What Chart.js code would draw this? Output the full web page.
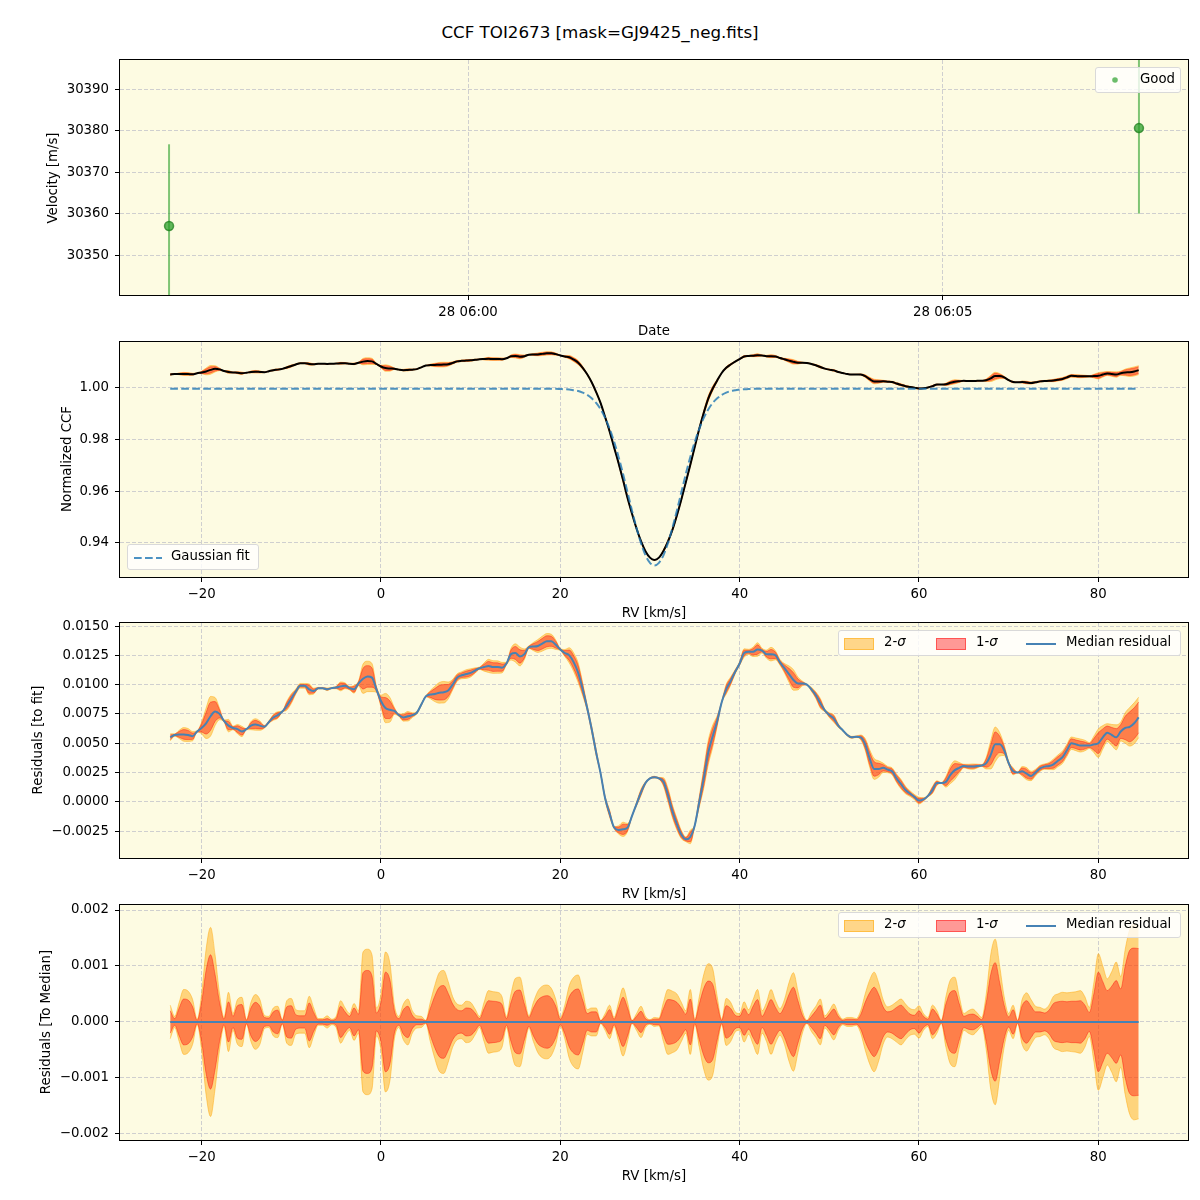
<!DOCTYPE html>
<html>
<head>
<meta charset="utf-8">
<script src="https://cdn.jsdelivr.net/npm/chart.js@4.4.0/dist/chart.umd.min.js"></script>
<style>
body { margin: 0; background: #fff; width: 1200px; height: 1200px; position: relative; overflow: hidden; font-family: "DejaVu Sans", sans-serif; }
canvas { position: absolute; left: 0; }
.lbl { position: absolute; color: #000; font-size: 13.3px; white-space: nowrap; transform: translate(-50%, -50%); }
.ylbl { transform: translate(-50%, -50%) rotate(-90deg); }
.title { font-size: 16.7px; }
.legend { position: absolute; background: rgba(255,255,255,0.8); border: 1px solid #d9d9d9; border-radius: 3px; font-size: 13.3px; box-sizing: border-box; }
.legend span, .legend i.sw, .legend svg { position: absolute; }
.sw { display: block; height: 10px; top: 7px; width: 28px; }
</style>
</head>
<body>
<div class="lbl title" style="left:600px; top:32px;">CCF TOI2673 [mask=GJ9425_neg.fits]</div>

<canvas id="c1" width="1200" height="291"></canvas>
<canvas id="c2" width="1200" height="291"></canvas>
<canvas id="c3" width="1200" height="291"></canvas>
<canvas id="c4" width="1200" height="291"></canvas>

<div class="lbl ylbl" style="left:52px; top:178px;">Velocity [m/s]</div>
<div class="lbl ylbl" style="left:66px; top:459px;">Normalized CCF</div>
<div class="lbl ylbl" style="left:37px; top:740px;">Residuals [to fit]</div>
<div class="lbl ylbl" style="left:45px; top:1022px;">Residuals [To Median]</div>
<div class="lbl" style="left:654px; top:330px;">Date</div>
<div class="lbl" style="left:654px; top:612px;">RV [km/s]</div>
<div class="lbl" style="left:654px; top:893px;">RV [km/s]</div>
<div class="lbl" style="left:654px; top:1175px;">RV [km/s]</div>

<div class="legend" style="left:1095px; top:67px; width:86px; height:26px;">
  <svg style="left:15px; top:8px;" width="8" height="8"><circle cx="4" cy="4" r="2.8" fill="rgba(44,160,44,0.7)"/></svg>
  <span style="left:44px; top:3px;">Good</span>
</div>
<div class="legend" style="left:127px; top:544px; width:132px; height:26px;">
  <svg style="left:6px; top:11px;" width="28" height="4"><line x1="0" y1="2" x2="28" y2="2" stroke="rgba(31,119,180,0.8)" stroke-width="2" stroke-dasharray="7.7,3.3"/></svg>
  <span style="left:43px; top:3px;">Gaussian fit</span>
</div>
<div class="legend" style="left:838px; top:630px; width:343px; height:26px;">
  <i class="sw" style="left:5px; background:rgba(255,165,0,0.45); border:1px solid rgba(255,165,0,0.5);"></i>
  <span style="left:45px; top:3px;">2-<i>σ</i></span>
  <i class="sw" style="left:97px; background:rgba(255,0,0,0.4); border:1px solid rgba(255,0,0,0.45);"></i>
  <span style="left:137px; top:3px;">1-<i>σ</i></span>
  <svg style="left:187px; top:11px;" width="30" height="4"><line x1="0" y1="2" x2="30" y2="2" stroke="#4682b4" stroke-width="2"/></svg>
  <span style="left:227px; top:3px;">Median residual</span>
</div>
<div class="legend" style="left:838px; top:912px; width:343px; height:26px;">
  <i class="sw" style="left:5px; background:rgba(255,165,0,0.45); border:1px solid rgba(255,165,0,0.5);"></i>
  <span style="left:45px; top:3px;">2-<i>σ</i></span>
  <i class="sw" style="left:97px; background:rgba(255,0,0,0.4); border:1px solid rgba(255,0,0,0.45);"></i>
  <span style="left:137px; top:3px;">1-<i>σ</i></span>
  <svg style="left:187px; top:11px;" width="30" height="4"><line x1="0" y1="2" x2="30" y2="2" stroke="#4682b4" stroke-width="2"/></svg>
  <span style="left:227px; top:3px;">Median residual</span>
</div>

<script>
// top panel: RV measurements
var obsTime = ["05:56:51", "06:07:04"];
var obsVel = [30357.0, 30380.6];
var obsErr = [19.7, 20.6];
var timeRange = ["05:56:20", "06:07:35"];
var timeTicks = ["06:00:00", "06:05:00"];
var timeTickLabels = ["28 06:00", "28 06:05"];
var velRange = [30340.4, 30397.0];
var velTicks = [30350, 30360, 30370, 30380, 30390];

// CCF grid (km/s)
var rv = [
  -23.5,-23,-22.5,-22,-21.5,-21,-20.5,-20,-19.5,-19,-18.5,-18,-17.5,-17,-16.5,-16,-15.5,-15,-14.5,-14,
  -13.5,-13,-12.5,-12,-11.5,-11,-10.5,-10,-9.5,-9,-8.5,-8,-7.5,-7,-6.5,-6,-5.5,-5,-4.5,-4,
  -3.5,-3,-2.5,-2,-1.5,-1,-0.5,0,0.5,1,1.5,2,2.5,3,3.5,4,4.5,5,5.5,6,
  6.5,7,7.5,8,8.5,9,9.5,10,10.5,11,11.5,12,12.5,13,13.5,14,14.5,15,15.5,16,
  16.5,17,17.5,18,18.5,19,19.5,20,20.5,21,21.5,22,22.5,23,23.5,24,24.5,25,25.5,26,
  26.5,27,27.5,28,28.5,29,29.5,30,30.5,31,31.5,32,32.5,33,33.5,34,34.5,35,35.5,36,
  36.5,37,37.5,38,38.5,39,39.5,40,40.5,41,41.5,42,42.5,43,43.5,44,44.5,45,45.5,46,
  46.5,47,47.5,48,48.5,49,49.5,50,50.5,51,51.5,52,52.5,53,53.5,54,54.5,55,55.5,56,
  56.5,57,57.5,58,58.5,59,59.5,60,60.5,61,61.5,62,62.5,63,63.5,64,64.5,65,65.5,66,
  66.5,67,67.5,68,68.5,69,69.5,70,70.5,71,71.5,72,72.5,73,73.5,74,74.5,75,75.5,76,
  76.5,77,77.5,78,78.5,79,79.5,80,80.5,81,81.5,82,82.5,83,83.5,84,84.5
];

var gaussFit = [
  0.9997,0.9997,0.9997,0.9997,0.9997,0.9997,0.9997,0.9997,0.9997,0.9997,0.9997,0.9997,0.9997,0.9997,0.9997,0.9997,0.9997,0.9997,0.9997,0.9997,
  0.9997,0.9997,0.9997,0.9997,0.9997,0.9997,0.9997,0.9997,0.9997,0.9997,0.9997,0.9997,0.9997,0.9997,0.9997,0.9997,0.9997,0.9997,0.9997,0.9997,
  0.9997,0.9997,0.9997,0.9997,0.9997,0.9997,0.9997,0.9997,0.9997,0.9997,0.9997,0.9997,0.9997,0.9997,0.9997,0.9997,0.9997,0.9997,0.9997,0.9997,
  0.9997,0.9997,0.9997,0.9997,0.9997,0.9997,0.9997,0.9997,0.9997,0.9997,0.9997,0.9997,0.9997,0.9997,0.9997,0.9997,0.9997,0.9997,0.9997,0.9997,
  0.9997,0.9997,0.9997,0.9997,0.9997,0.9997,0.9997,0.9996,0.9995,0.9994,0.9991,0.9988,0.9982,0.9973,0.9960,0.9942,0.9917,0.9884,0.9842,0.9792,
  0.9733,0.9667,0.9596,0.9525,0.9458,0.9399,0.9352,0.9323,0.9313,0.9323,0.9352,0.9399,0.9458,0.9525,0.9596,0.9667,0.9733,0.9792,0.9842,0.9884,
  0.9917,0.9942,0.9960,0.9973,0.9982,0.9988,0.9991,0.9994,0.9995,0.9996,0.9997,0.9997,0.9997,0.9997,0.9997,0.9997,0.9997,0.9997,0.9997,0.9997,
  0.9997,0.9997,0.9997,0.9997,0.9997,0.9997,0.9997,0.9997,0.9997,0.9997,0.9997,0.9997,0.9997,0.9997,0.9997,0.9997,0.9997,0.9997,0.9997,0.9997,
  0.9997,0.9997,0.9997,0.9997,0.9997,0.9997,0.9997,0.9997,0.9997,0.9997,0.9997,0.9997,0.9997,0.9997,0.9997,0.9997,0.9997,0.9997,0.9997,0.9997,
  0.9997,0.9997,0.9997,0.9997,0.9997,0.9997,0.9997,0.9997,0.9997,0.9997,0.9997,0.9997,0.9997,0.9997,0.9997,0.9997,0.9997,0.9997,0.9997,0.9997,
  0.9997,0.9997,0.9997,0.9997,0.9997,0.9997,0.9997,0.9997,0.9997,0.9997,0.9997,0.9997,0.9997,0.9997,0.9997,0.9997,0.9997
];

// median residual to fit, units of 1e-4
var medianResid = [
  55,57,57.5,57.5,57,56,60,63,67,73,77,75,69,65,63,62,60,62,65,66,
  65,64,68,72,74,77,82,88,94,99,99,96,94.5,97,97,96,97,97.5,98.5,99,
  97,96,101,105,107,106,96,86,80,78.5,77.5,74,72,73,74,76,83,90,91.5,92,
  93,93.5,95,100,106,108,109,110,112,114,115,116,115,115,114.5,118,126,127,124,126,
  132,132.5,133,135,137,137,134,130,127,125,119,110,96,80,62,42,24,3,-10,-22,
  -24,-23.5,-22,-12,-2,8,16,20,21,20,17,6,-8,-19,-28,-32,-30,-20,0,20,
  42,56,69,85,96,103,111,118,127,128,128,130,129,126,126,125,119,114,109,104,
  101,101,100,96,91,84,78,74,71,65,61,57,55,55.5,55,49,37,28,28,29,
  27.5,26,20,15,10,7,4,1,2,5,10,16,16,17,23,27,29,30.5,30,30,
  30.5,31,33,40,49,49,44,33,26,25,26,24,22,25,28.5,30,30.5,32,35,38,
  44,50,49,48,48,48,49,50,55,59,57,55,60,63,64,67,72
];

// 2-sigma half width, units of 1e-4
var sigma2 = [
  3.0,1.0,3.5,5.8,5.5,4.0,0.5,5.0,13.0,16.9,12.0,5.0,0.8,5.3,1.5,4.0,4.4,0.4,3.5,4.9,
  4.0,1.2,1.0,2.5,2.8,0.4,3.8,4.2,2.2,2.0,2.0,4.6,2.5,0.6,0.6,1.1,0.5,1.0,3.8,2.5,
  1.5,3.3,2.0,12.5,13.0,12.0,2.5,5.0,12.5,10.5,3.0,1.0,3.2,4.1,2.0,1.1,1.0,0.3,3.5,6.5,
  8.8,9.2,7.2,4.5,3.2,3.0,3.7,3.5,2.3,1.0,3.5,5.6,5.4,5.3,4.5,1.0,5.0,7.8,8.0,4.5,
  1.1,3.5,5.5,6.4,6.6,6.0,4.0,0.8,3.0,6.5,8.0,8.4,5.5,2.2,2.5,2.5,0.3,1.5,3.0,0.8,
  3.5,6.1,3.5,0.3,1.5,2.8,1.0,0.4,0.8,0.7,3.5,5.8,5.5,5.0,3.5,2.0,5.8,0.5,4.5,8.5,
  10.4,9.5,4.5,0.5,4.2,3.5,1.8,1.5,3.6,2.2,4.0,5.8,2.0,3.5,5.8,3.8,2.4,4.0,7.0,8.8,
  5.5,2.0,0.3,1.7,2.8,4.1,1.1,2.0,3.2,1.5,0.5,0.8,0.8,0.6,2.0,5.0,7.5,8.9,7.0,4.0,
  2.7,3.0,3.6,4.1,3.2,2.4,2.2,2.9,1.5,0.8,3.0,2.0,0.3,4.5,7.5,8.0,4.5,1.5,2.0,2.3,
  1.6,0.8,5.0,12.0,14.8,10.0,4.5,1.5,3.0,0.3,4.0,5.2,4.0,2.8,2.6,2.3,3.0,4.6,5.0,5.3,
  5.2,5.3,5.4,5.6,4.5,2.6,7.0,12.2,10.0,7.7,9.0,10.7,8.1,13.0,16.5,17.5,17.3
];

// 1-sigma half width, units of 1e-4
var sigma1 = [
  2.0,0.6,2.5,4.1,3.9,2.7,0.3,3.5,9.2,12.0,8.5,3.5,0.5,3.6,1.0,2.9,3.1,0.3,2.5,3.5,
  2.8,0.8,0.7,1.8,2.1,0.3,2.7,2.9,1.3,1.1,1.1,3.4,1.7,0.4,0.4,0.6,0.3,0.6,2.8,1.8,
  1.0,2.5,1.4,8.8,9.2,8.2,1.6,3.5,8.9,7.5,2.0,0.6,2.2,2.8,1.2,0.5,0.5,0.2,2.4,4.6,
  6.2,6.5,5.1,3.2,2.2,2.0,2.5,2.4,1.6,0.6,2.4,3.8,3.7,3.6,3.1,0.6,3.5,5.5,5.7,3.2,
  0.8,2.5,3.9,4.5,4.7,4.3,2.8,0.5,2.1,4.5,5.6,5.9,3.9,1.5,1.8,1.8,0.2,1.0,2.2,0.5,
  2.5,4.4,2.5,0.2,1.0,1.9,0.6,0.3,0.5,0.5,2.4,4.0,3.9,3.5,2.5,1.4,4.1,0.3,3.2,6.0,
  7.3,6.7,3.2,0.3,2.9,2.4,1.2,1.0,2.4,1.3,2.8,4.0,1.0,2.4,4.0,2.6,1.5,2.8,4.9,6.2,
  3.8,1.2,0.2,1.0,2.0,3.0,0.6,1.4,2.3,1.0,0.3,0.5,0.5,0.4,1.3,3.5,5.2,6.2,4.9,2.7,
  1.8,2.0,2.6,3.0,2.2,1.4,1.2,2.0,1.0,0.5,2.3,1.4,0.2,3.2,5.3,5.6,3.2,1.0,1.3,1.4,
  1.0,0.4,3.5,8.5,10.6,7.0,3.0,0.9,2.2,0.2,2.9,3.8,2.8,1.8,1.8,1.6,2.1,3.3,3.6,3.7,
  3.6,3.7,3.7,3.8,3.0,1.7,5.0,8.9,7.2,5.6,6.4,7.4,5.9,10.0,12.8,13.2,13.1
];

var rvRange = [-29.1, 90.0];
var rvTicks = [-20, 0, 20, 40, 60, 80];
var ccfRange = [0.9268, 1.0178];
var ccfTicks = [0.94, 0.96, 0.98, 1.00];
var residRange = [-0.0048, 0.01526];
var residTicks = [-0.0025, 0, 0.0025, 0.005, 0.0075, 0.01, 0.0125, 0.015];
var medRange = [-0.00211, 0.00209];
var medTicks = [-0.002, -0.001, 0, 0.001, 0.002];

[gaussFit, medianResid, sigma2, sigma1].forEach(function(a){
    if (a.length !== rv.length){
        throw new Error("length mismatch " + a.length + " vs " + rv.length);
    }
});

var SIG2_COLOR = "rgba(255,165,0,0.45)";
var SIG1_COLOR = "rgba(255,0,0,0.4)";
var FONT = {family: "DejaVu Sans", size: 13.3};
var PAD_TOP = 16;

Chart.defaults.font.family = "DejaVu Sans";

function toSec(t){
    var p = t.split(":");
    return (+p[0]) * 3600 + (+p[1]) * 60 + (+p[2]) - 6 * 3600;
}

function minusSign(s){
    return s.charAt(0) === "-" ? "\u2212" + s.slice(1) : s;
}

var framePlugin = {
    id: "frame",
    beforeDraw: function(chart){
        var a = chart.chartArea, ctx = chart.ctx;
        ctx.save();
        ctx.fillStyle = "#fdfbe2";
        ctx.fillRect(a.left, a.top, a.right - a.left, a.bottom - a.top);
        ctx.restore();
    },
    afterDraw: function(chart){
        var a = chart.chartArea, ctx = chart.ctx;
        ctx.save();
        ctx.strokeStyle = "#000";
        ctx.lineWidth = 1;
        ctx.strokeRect(Math.round(a.left) - 0.5, Math.round(a.top) - 0.5,
            Math.round(a.right - a.left) + 1, Math.round(a.bottom - a.top) + 1);
        ctx.restore();
    }
};

function axis(range, tickValues, fmt, isX){
    return {
        type: "linear",
        min: range[0],
        max: range[1],
        afterBuildTicks: function(s){
            s.ticks = tickValues.map(function(v){ return {value: v}; });
        },
        afterFit: function(s){
            if (isX){
                s.height = 40;
            } else {
                s.width = 120;
            }
        },
        ticks: {callback: fmt, color: "#000", font: FONT, padding: isX ? 5 : 6, maxRotation: 0, autoSkip: false},
        grid: {color: "#cfcfcf", lineWidth: 1, tickColor: "#000", tickLength: 5, tickWidth: 1, tickBorderDash: []},
        border: {display: false, dash: [4, 2]}
    };
}

function pts(ys){
    return rv.map(function(x, i){ return {x: x, y: ys[i]}; });
}

// bands sit below the lines (higher order is drawn first)
function band(center, sig, color, order){
    var up = center.map(function(c, i){ return c + sig[i] * 1e-4; });
    var lo = center.map(function(c, i){ return c - sig[i] * 1e-4; });
    return [
        {data: pts(up), borderColor: color, backgroundColor: color, borderWidth: 1, fill: false, order: order},
        {data: pts(lo), borderColor: color, backgroundColor: color, borderWidth: 1, fill: "-1", order: order}
    ];
}

// plotTop: wanted pixel row of the plot frame's top edge
function makeChart(id, plotTop, datasets, xs, ys){
    var cv = document.getElementById(id);
    cv.style.top = (plotTop - PAD_TOP) + "px";
    return new Chart(cv, {
        type: "line",
        data: {datasets: datasets},
        options: {
            responsive: false,
            animation: false,
            devicePixelRatio: 1,
            layout: {padding: {top: PAD_TOP, right: 12, bottom: 0, left: 0}},
            plugins: {legend: {display: false}, tooltip: {enabled: false}},
            elements: {point: {radius: 0}, line: {cubicInterpolationMode: "monotone"}},
            scales: {x: xs, y: ys}
        },
        plugins: [framePlugin]
    });
}

var rvFmt = function(v){ return minusSign(String(v)); };

// panel 1
var velSets = [];
obsTime.forEach(function(t, i){
    velSets.push({
        data: [{x: toSec(t), y: obsVel[i] - obsErr[i]}, {x: toSec(t), y: obsVel[i] + obsErr[i]}],
        borderColor: "rgba(44,160,44,0.6)", borderWidth: 2, fill: false, order: 2
    });
});
velSets.push({
    data: obsTime.map(function(t, i){ return {x: toSec(t), y: obsVel[i]}; }),
    showLine: false,
    order: 1,
    pointRadius: 4.5,
    pointBackgroundColor: "rgba(44,160,44,0.75)",
    pointBorderColor: "rgba(20,120,20,0.7)",
    pointBorderWidth: 1.5
});
makeChart("c1", 60, velSets,
    axis([toSec(timeRange[0]), toSec(timeRange[1])], timeTicks.map(toSec), function(v){
        return timeTickLabels[timeTicks.map(toSec).indexOf(v)];
    }, true),
    axis(velRange, velTicks, function(v){ return String(v); }, false));

// panel 2: CCF = gaussian fit + residual
var ccf = gaussFit.map(function(g, i){ return g + medianResid[i] * 1e-4; });
var ccfSets = band(ccf, sigma2, SIG2_COLOR, 5).concat(band(ccf, sigma1, SIG1_COLOR, 4));
ccfSets.push({data: pts(ccf), borderColor: "#000", borderWidth: 2, fill: false, order: 2});
ccfSets.push({data: pts(gaussFit), borderColor: "rgba(31,119,180,0.8)", borderWidth: 2, borderDash: [7.7, 3.3], fill: false, order: 1});
makeChart("c2", 342, ccfSets,
    axis(rvRange, rvTicks, rvFmt, true),
    axis(ccfRange, ccfTicks, function(v){ return v.toFixed(2); }, false));

// panel 3: residuals to fit
var resid = medianResid.map(function(m){ return m * 1e-4; });
var residSets = band(resid, sigma2, SIG2_COLOR, 5).concat(band(resid, sigma1, SIG1_COLOR, 4));
residSets.push({data: pts(resid), borderColor: "#4682b4", borderWidth: 2, fill: false, order: 1});
makeChart("c3", 623, residSets,
    axis(rvRange, rvTicks, rvFmt, true),
    axis(residRange, residTicks, function(v){ return minusSign(v.toFixed(4)); }, false));

// panel 4: residuals to median
var zero = resid.map(function(r, i){ return r - resid[i]; });
var medSets = band(zero, sigma2, SIG2_COLOR, 5).concat(band(zero, sigma1, SIG1_COLOR, 4));
medSets.push({data: pts(zero), borderColor: "#4682b4", borderWidth: 2, fill: false, order: 1});
makeChart("c4", 905, medSets,
    axis(rvRange, rvTicks, rvFmt, true),
    axis(medRange, medTicks, function(v){ return minusSign(v.toFixed(3)); }, false));
</script>
</body>
</html>
